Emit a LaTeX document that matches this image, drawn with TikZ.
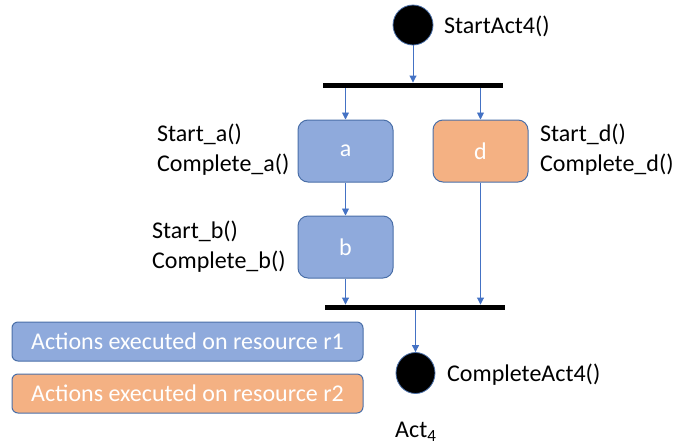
\documentclass[tikz,border=0pt]{standalone}
\usepackage{fontspec}
\setmainfont{Carlito}
\usetikzlibrary{arrows.meta,shapes.geometric}
\definecolor{boxblue}{HTML}{8FAADC}
\definecolor{boxorange}{HTML}{F4B183}
\definecolor{edgeblue}{HTML}{4472C4}
\definecolor{outline}{HTML}{4A6FA8}
\tikzset{
  lbl/.style={font=\fontsize{24}{28}\selectfont, inner sep=0pt, anchor=base west},
  actbox/.style={draw=outline, line width=1pt, rounded corners=10pt,
    minimum width=95pt, minimum height=62pt, inner sep=0pt, text=white,
    font=\fontsize{24}{28}\selectfont},
  legbox/.style={draw=outline, line width=1pt, rounded corners=6pt,
    minimum width=351pt, minimum height=39pt, inner sep=0pt, text=white,
    font=\fontsize{24}{28}\selectfont},
  syncbar/.style={fill=black, minimum width=180pt, minimum height=5.5pt, inner sep=0pt},
  dot/.style={fill=black, draw=outline, line width=0.8pt, inner sep=0pt},
  arr/.style={draw=edgeblue, line width=0.9pt, -{Triangle[length=7pt,width=7pt]}}
}
\begin{document}
\begin{tikzpicture}[x=1pt,y=-1pt]
\useasboundingbox (0,0) rectangle (675,445);
% initial and final states
\node[dot, circle, minimum size=40pt] (s) at (413,25) {};
\node[dot, ellipse, minimum width=39pt, minimum height=41pt] (e) at (415.5,373) {};
\node[lbl] (sl) at (444,33) {StartAct4()};
\node[lbl] (el) at (447,381) {CompleteAct4()};
\node[lbl] (act) at (395,437) {Act\raisebox{-4.5pt}{\fontsize{17}{20}\selectfont 4}};
% fork and join bars
\node[syncbar] (bar1) at (413,85.5) {};
\node[syncbar] (bar2) at (415,307.5) {};
% actions
\node[actbox, fill=boxblue] (a) at (345.5,151) {a};
\node[actbox, fill=boxorange] (d) at (480.5,151) {d};
\node[actbox, fill=boxblue] (b) at (345.5,247) {b};
% action labels
\node[lbl] (la1) at (157,141) {Start\_a()};
\node[lbl] (la2) at (157,171) {Complete\_a()};
\node[lbl] (lb1) at (152,238) {Start\_b()};
\node[lbl] (lb2) at (152,268) {Complete\_b()};
\node[lbl] (ld1) at (540,141) {Start\_d()};
\node[lbl] (ld2) at (540,171) {Complete\_d()};
% connectors
\draw[arr] (s.south) -- (bar1.north);
\draw[arr] (a.north |- bar1.south) -- (a.north);
\draw[arr] (d.north |- bar1.south) -- (d.north);
\draw[arr] (a.south) -- (b.north);
\draw[arr] (b.south) -- (b.south |- bar2.north);
\draw[arr] (d.south) -- (d.south |- bar2.north);
\draw[arr] (e.north |- bar2.south) -- (e.north);
% legend
\node[legbox, fill=boxblue] (r1) at (187.5,341.5) {Actions executed on resource r1};
\node[legbox, fill=boxorange] (r2) at (187.5,393.5) {Actions executed on resource r2};
\end{tikzpicture}
\end{document}
